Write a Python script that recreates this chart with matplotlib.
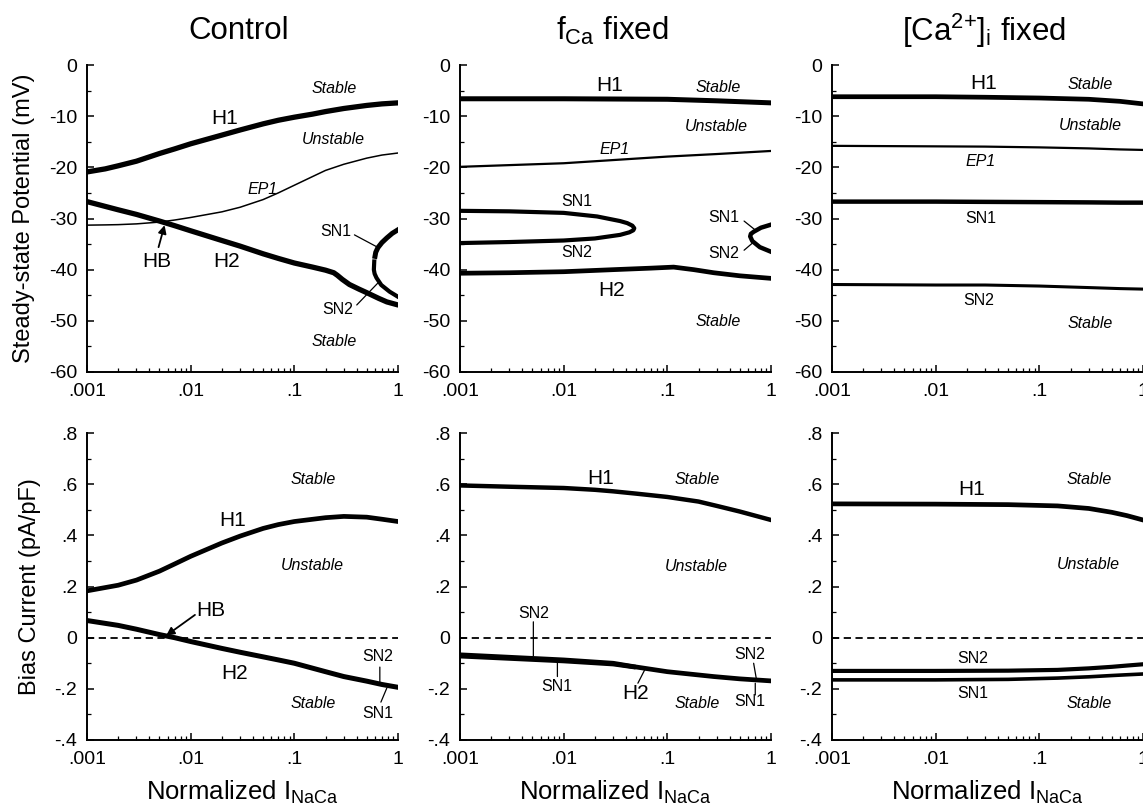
import matplotlib.pyplot as plt
from matplotlib.ticker import LogLocator, NullFormatter, MultipleLocator

plt.rcParams['font.family'] = ['Liberation Sans', 'DejaVu Sans']
plt.rcParams['mathtext.fontset'] = 'custom'
plt.rcParams['mathtext.rm'] = 'Liberation Sans'
plt.rcParams['mathtext.it'] = 'Liberation Sans:italic'

# ---- data ----
titles = ["Control", r"$\mathregular{f_{Ca}}$ fixed", r"$\mathregular{[Ca^{2{+}}]_i}$ fixed"]
x_ticks = [0.001, 0.01, 0.1, 1]
x_ticklabels = [".001", ".01", ".1", "1"]
v_ticks = [0, -10, -20, -30, -40, -50, -60]
v_ticklabels = ["0", "-10", "-20", "-30", "-40", "-50", "-60"]
i_ticks = [0.8, 0.6, 0.4, 0.2, 0, -0.2, -0.4]
i_ticklabels = [".8", ".6", ".4", ".2", "0", "-.2", "-.4"]

# Control, steady-state potential
c_x = [0.001, 0.0015, 0.002, 0.003, 0.005, 0.007, 0.01, 0.02, 0.03, 0.05,
       0.07, 0.1, 0.15, 0.2, 0.3, 0.5, 0.7, 1]
c_h1 = [-20.9, -20.3, -19.7, -18.8, -17.3, -16.4, -15.4, -13.7, -12.7, -11.5,
        -10.8, -10.2, -9.6, -9.1, -8.5, -7.9, -7.6, -7.4]
c_ep1 = [-31.3, -31.25, -31.2, -31.05, -30.7, -30.3, -29.8, -28.7, -27.8, -26.3,
         -25.0, -23.5, -21.8, -20.6, -19.4, -18.2, -17.6, -17.2]
c_h2_x = [0.001, 0.002, 0.003, 0.005, 0.007, 0.01, 0.02, 0.03, 0.05, 0.07, 0.1,
          0.15, 0.2, 0.24, 0.26, 0.29, 0.34, 0.42, 0.5, 0.65, 0.78, 1]
c_h2 = [-26.7, -28.3, -29.2, -30.5, -31.4, -32.4, -34.3, -35.4, -36.9, -37.8, -38.7,
        -39.5, -40.1, -40.6, -41.1, -41.9, -42.9, -43.8, -44.5, -45.6, -46.3, -46.9]
c_sn1_x = [1, 0.88, 0.78, 0.7, 0.64, 0.61, 0.60]
c_sn1 = [-32.2, -32.9, -33.8, -34.7, -35.7, -36.6, -37.4]
c_sn2_x = [0.59, 0.585, 0.595, 0.62, 0.69, 0.83, 1]
c_sn2 = [-38.4, -40.0, -40.8, -41.6, -43.0, -44.3, -45.3]

# Control, bias current
cb_x = [0.001, 0.002, 0.003, 0.005, 0.007, 0.01, 0.02, 0.03, 0.05, 0.07, 0.1,
        0.2, 0.3, 0.5, 0.7, 1]
cb_h1 = [0.183, 0.205, 0.225, 0.26, 0.288, 0.318, 0.37, 0.397, 0.427, 0.442, 0.454,
         0.469, 0.474, 0.471, 0.463, 0.454]
cb_h2 = [0.067, 0.048, 0.033, 0.012, 0.0, -0.015, -0.042, -0.057, -0.075, -0.087, -0.100,
         -0.133, -0.152, -0.170, -0.183, -0.194]

# f_Ca fixed, steady-state potential
f_x = [0.001, 0.01, 0.1, 0.3, 1]
f_h1 = [-6.6, -6.6, -6.7, -7.0, -7.4]
f_ep1 = [-19.9, -19.2, -17.9, -17.4, -16.8]
f_sn_x = [0.001, 0.003, 0.01, 0.021, 0.035, 0.041, 0.046, 0.048, 0.047, 0.043, 0.035,
          0.02, 0.01, 0.003, 0.001]
f_sn = [-28.5, -28.6, -28.9, -29.6, -30.5, -30.9, -31.4, -31.9, -32.3, -32.7, -33.2,
        -33.9, -34.3, -34.6, -34.8]
f_sn_r_x = [1, 0.8, 0.68, 0.64, 0.63, 0.66, 0.78, 1]
f_sn_r = [-31.2, -31.8, -32.6, -33.0, -33.5, -34.4, -35.6, -36.5]
f_h2_x = [0.001, 0.003, 0.01, 0.03, 0.07, 0.115, 0.18, 0.28, 0.5, 1]
f_h2 = [-40.7, -40.6, -40.4, -40.0, -39.7, -39.5, -40.0, -40.6, -41.2, -41.7]

# f_Ca fixed, bias current
fb_x = [0.001, 0.003, 0.01, 0.02, 0.03, 0.05, 0.1, 0.2, 0.3, 0.5, 0.7, 1]
fb_h1 = [0.595, 0.590, 0.585, 0.578, 0.572, 0.563, 0.550, 0.532, 0.515, 0.493, 0.477, 0.460]
fb_h2_x = [0.001, 0.01, 0.03, 0.047, 0.1, 0.28, 0.5, 1]
fb_h2 = [-0.067, -0.087, -0.100, -0.113, -0.133, -0.152, -0.161, -0.169]
fb_sn_x = [0.001, 0.01, 0.03, 0.047]
fb_sn = [-0.072, -0.091, -0.103, -0.114]

# [Ca2+]i fixed, steady-state potential
k_x = [0.001, 0.01, 0.03, 0.1, 0.3, 0.6, 1]
k_h1 = [-6.2, -6.2, -6.3, -6.45, -6.7, -7.1, -7.6]
k_ep1 = [-15.8, -15.9, -15.95, -16.1, -16.3, -16.5, -16.6]
k_sn1 = [-26.7, -26.7, -26.75, -26.8, -26.85, -26.9, -26.9]
k_sn2 = [-42.9, -43.0, -43.0, -43.2, -43.5, -43.7, -43.8]

# [Ca2+]i fixed, bias current
kb_x = [0.001, 0.01, 0.05, 0.15, 0.3, 0.5, 0.7, 1]
kb_h1 = [0.523, 0.522, 0.520, 0.515, 0.505, 0.490, 0.477, 0.460]
kb_sn2 = [-0.130, -0.130, -0.129, -0.126, -0.120, -0.114, -0.109, -0.104]
kb_sn1 = [-0.165, -0.165, -0.163, -0.158, -0.153, -0.148, -0.145, -0.142]

W, H = 1143, 810
fig = plt.figure(figsize=(W / 100, H / 100), dpi=100)

lefts = [87, 460, 832]
rows = [(65, 372), (433, 740)]


def make_ax(col, row):
    top, bot = rows[row]
    ax = fig.add_axes([lefts[col] / W, 1 - bot / H, 311 / W, (bot - top) / H])
    ax.set_xscale('log')
    ax.set_xlim(0.001, 1)
    for s in ['top', 'right']:
        ax.spines[s].set_visible(False)
    for s in ['left', 'bottom']:
        ax.spines[s].set_linewidth(1.4)
    ax.set_xticks(x_ticks)
    ax.set_xticklabels(x_ticklabels)
    ax.xaxis.set_minor_locator(LogLocator(base=10, subs=range(2, 10)))
    ax.xaxis.set_minor_formatter(NullFormatter())
    if row == 0:
        ax.set_ylim(-60, 0)
        ax.set_yticks(v_ticks)
        ax.set_yticklabels(v_ticklabels)
        ax.yaxis.set_minor_locator(MultipleLocator(5))
    else:
        ax.set_ylim(-0.4, 0.8)
        ax.set_yticks(i_ticks)
        ax.set_yticklabels(i_ticklabels)
        ax.yaxis.set_minor_locator(MultipleLocator(0.1))
        ax.axhline(0, color='black', lw=1.3, ls=(0, (4, 2.5)))
        ax.set_xlabel(r"Normalized $\mathregular{I_{NaCa}}$", fontsize=18.5, labelpad=8)
    ax.tick_params(which='major', direction='in', length=5, width=1.1, labelsize=14)
    ax.tick_params(axis='x', which='major', pad=8)
    ax.tick_params(axis='y', which='major', pad=7)
    ax.tick_params(which='minor', direction='in', length=3, width=0.9)
    return ax


def lead(ax, xy, xytext, arrow=False):
    if arrow:
        props = dict(arrowstyle='-|>', color='black', lw=1.3, mutation_scale=12, shrinkA=0, shrinkB=0)
    else:
        props = dict(arrowstyle='-', color='black', lw=0.9, shrinkA=0, shrinkB=0)
    ax.annotate("", xy=xy, xytext=xytext, arrowprops=props)


def label(ax, x, y, s, size=14, italic=False):
    ax.text(x, y, s, fontsize=size, ha='center', va='center',
            style='italic' if italic else 'normal')


# ---- Control, top ----
ax = make_ax(0, 0)
ax.plot(c_x, c_h1, color='black', lw=3.8, solid_capstyle='round')
ax.plot(c_x, c_ep1, color='black', lw=1.1)
ax.plot(c_h2_x, c_h2, color='black', lw=3.8, solid_capstyle='round')
ax.plot(c_sn1_x, c_sn1, color='black', lw=3.6)
ax.plot(c_sn2_x, c_sn2, color='black', lw=3.0)
label(ax, 0.0214, -10.4, "H1", 15)
label(ax, 0.24, -4.5, "Stable", 11.5, True)
label(ax, 0.24, -14.6, "Unstable", 11.5, True)
label(ax, 0.049, -24.4, "EP1", 11.5, True)
label(ax, 0.0047, -38.4, "HB", 15)
label(ax, 0.022, -38.4, "H2", 15)
label(ax, 0.24, -54.0, "Stable", 11.5, True)
label(ax, 0.25, -32.6, "SN1", 11.5)
label(ax, 0.26, -47.8, "SN2", 11.5)
lead(ax, (0.0056, -31.3), (0.0049, -35.6), arrow=True)
lead(ax, (0.62, -35.5), (0.38, -33.2))
lead(ax, (0.64, -42.6), (0.40, -46.9))
ax.set_ylabel("Steady-state Potential (mV)", fontsize=17, labelpad=10)

# ---- f_Ca fixed, top ----
ax = make_ax(1, 0)
ax.plot(f_x, f_h1, color='black', lw=3.6)
ax.plot(f_x, f_ep1, color='black', lw=1.6)
ax.plot(f_sn_x, f_sn, color='black', lw=3.0)
ax.plot(f_sn_r_x, f_sn_r, color='black', lw=3.2)
ax.plot(f_h2_x, f_h2, color='black', lw=3.4)
label(ax, 0.028, -4.1, "H1", 15)
label(ax, 0.31, -4.4, "Stable", 11.5, True)
label(ax, 0.30, -12.1, "Unstable", 11.5, True)
label(ax, 0.031, -16.5, "EP1", 11.5, True)
label(ax, 0.0134, -26.7, "SN1", 11.5)
label(ax, 0.0134, -36.7, "SN2", 11.5)
label(ax, 0.029, -44.0, "H2", 15)
label(ax, 0.31, -50.2, "Stable", 11.5, True)
label(ax, 0.35, -29.8, "SN1", 11.5)
label(ax, 0.35, -36.8, "SN2", 11.5)
lead(ax, (0.70, -32.2), (0.55, -30.5))
lead(ax, (0.68, -34.6), (0.55, -36.2))

# ---- [Ca2+]i fixed, top ----
ax = make_ax(2, 0)
ax.plot(k_x, k_h1, color='black', lw=3.4)
ax.plot(k_x, k_ep1, color='black', lw=1.6)
ax.plot(k_x, k_sn1, color='black', lw=3.2)
ax.plot(k_x, k_sn2, color='black', lw=2.2)
label(ax, 0.029, -3.7, "H1", 15)
label(ax, 0.31, -3.9, "Stable", 11.5, True)
label(ax, 0.31, -11.8, "Unstable", 11.5, True)
label(ax, 0.027, -18.9, "EP1", 11.5, True)
label(ax, 0.027, -30.0, "SN1", 11.5)
label(ax, 0.026, -46.0, "SN2", 11.5)
label(ax, 0.31, -50.6, "Stable", 11.5, True)

# ---- Control, bottom ----
ax = make_ax(0, 1)
ax.plot(cb_x, cb_h1, color='black', lw=3.4)
ax.plot(cb_x, cb_h2, color='black', lw=3.6)
label(ax, 0.151, 0.617, "Stable", 11.5, True)
label(ax, 0.0256, 0.458, "H1", 15)
label(ax, 0.15, 0.282, "Unstable", 11.5, True)
label(ax, 0.0158, 0.106, "HB", 15)
label(ax, 0.0265, -0.139, "H2", 15)
label(ax, 0.151, -0.259, "Stable", 11.5, True)
label(ax, 0.64, -0.074, "SN2", 11.5)
label(ax, 0.64, -0.295, "SN1", 11.5)
lead(ax, (0.0058, 0.008), (0.011, 0.089), arrow=True)
lead(ax, (0.668, -0.173), (0.668, -0.115))
lead(ax, (0.78, -0.197), (0.684, -0.252))
ax.set_ylabel("Bias Current (pA/pF)", fontsize=17, labelpad=10)

# ---- f_Ca fixed, bottom ----
ax = make_ax(1, 1)
ax.plot(fb_x, fb_h1, color='black', lw=3.2)
ax.plot(fb_h2_x, fb_h2, color='black', lw=3.4)
ax.plot(fb_sn_x, fb_sn, color='black', lw=3.4)
label(ax, 0.0225, 0.624, "H1", 15)
label(ax, 0.193, 0.617, "Stable", 11.5, True)
label(ax, 0.19, 0.278, "Unstable", 11.5, True)
label(ax, 0.0051, 0.095, "SN2", 11.5)
label(ax, 0.0086, -0.191, "SN1", 11.5)
label(ax, 0.049, -0.217, "H2", 15)
label(ax, 0.193, -0.259, "Stable", 11.5, True)
label(ax, 0.63, -0.067, "SN2", 11.5)
label(ax, 0.63, -0.250, "SN1", 11.5)
lead(ax, (0.0051, -0.072), (0.0051, 0.062))
lead(ax, (0.0087, -0.093), (0.0087, -0.152))
lead(ax, (0.061, -0.123), (0.052, -0.178))
lead(ax, (0.72, -0.158), (0.68, -0.100))
lead(ax, (0.705, -0.178), (0.705, -0.224))

# ---- [Ca2+]i fixed, bottom ----
ax = make_ax(2, 1)
ax.plot(kb_x, kb_h1, color='black', lw=3.4)
ax.plot(kb_x, kb_sn2, color='black', lw=3.0)
ax.plot(kb_x, kb_sn1, color='black', lw=2.6)
label(ax, 0.0224, 0.578, "H1", 15)
label(ax, 0.30, 0.617, "Stable", 11.5, True)
label(ax, 0.30, 0.285, "Unstable", 11.5, True)
label(ax, 0.023, -0.083, "SN2", 11.5)
label(ax, 0.023, -0.217, "SN1", 11.5)
label(ax, 0.30, -0.257, "Stable", 11.5, True)

# column titles
for col, t in enumerate(titles):
    cx = (lefts[col] + 152) / W
    fig.text(cx, 1 - 31 / H, t, fontsize=22.5, ha='center', va='center')

fig.savefig("out.png", dpi=100)
